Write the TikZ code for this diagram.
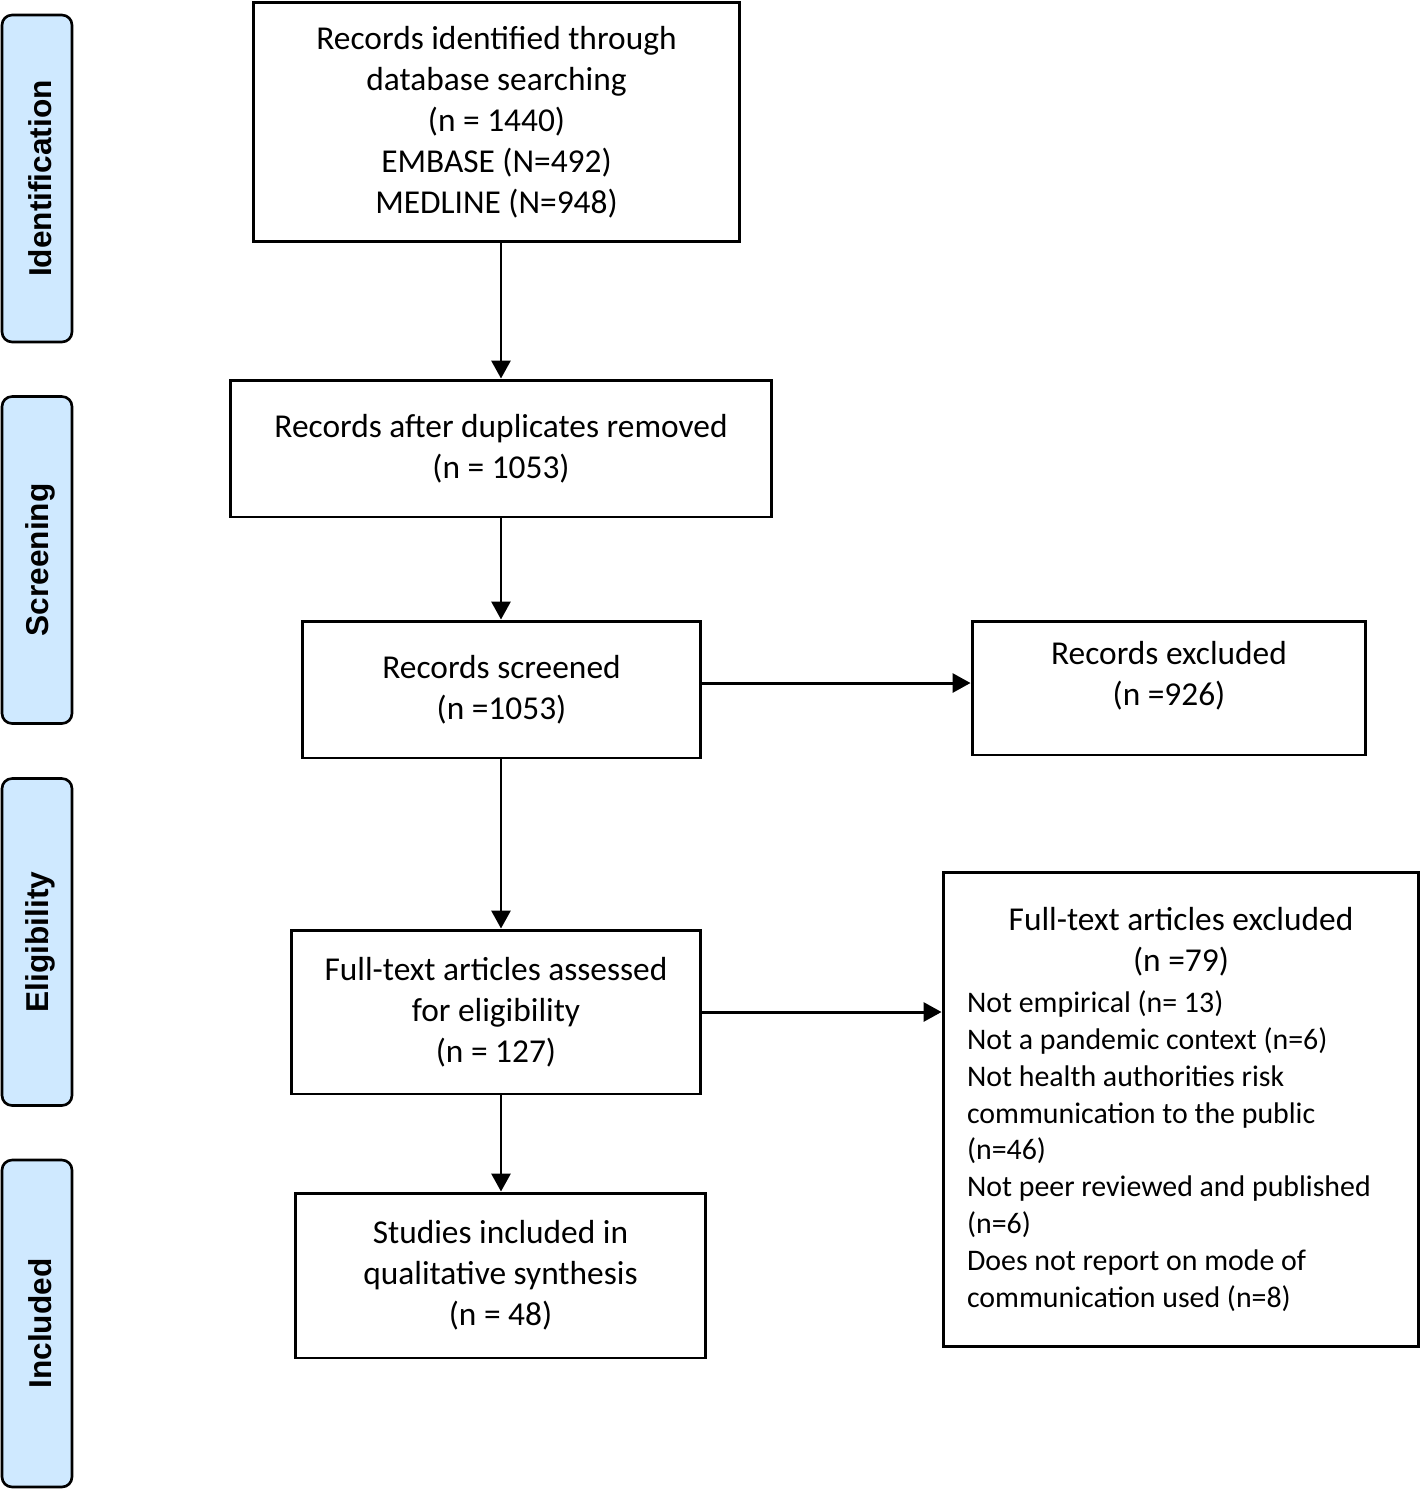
\documentclass[tikz,border=0pt]{standalone}
\usepackage{fontspec}
\setmainfont{Carlito}
\newfontfamily\sidefont{Liberation Sans}
\usetikzlibrary{arrows.meta,calc}
\definecolor{stageBg}{RGB}{207,233,255}
\tikzset{
boxstyle/.style={rectangle, draw, line width=1.7pt, inner sep=2pt, align=center, font=\fontsize{19}{23.3}\selectfont},
stagestyle/.style={rectangle, rounded corners=0.2cm, draw, line width=1.5pt, fill=stageBg, minimum width=1.4cm, minimum height=6.54cm},
stagetext/.style={rotate=90, font=\sidefont\bfseries\fontsize{18}{20}\selectfont},
arrowstyle/.style={line width=1.7pt, -{Triangle[length=0.36cm,width=0.38cm]}}
}
\newcommand{\stage}[3]{
  \node [stagestyle] (#1) at (37,#2) {};
  \node [stagetext] (#1txt) at (40,#2) {#3};
}
\newcommand{\headline}[1]{\makebox[8.56cm]{\fontsize{19}{23.3}\selectfont #1}}
\begin{document}
\begin{tikzpicture}[x=0.02cm, y=-0.02cm]
\useasboundingbox (0,0) rectangle (1420,1489);

\stage{ident}{178.5}{Identification}
\stage{screen}{560}{Screening}
\stage{elig}{942}{Eligibility}
\stage{incl}{1323.5}{Included}

\node [boxstyle, minimum width=9.74cm, minimum height=4.8cm] (rid) at (496.5,122)
  {Records identified through\\database searching\\(n = 1440)\\EMBASE (N=492)\\MEDLINE (N=948)};
\node [boxstyle, minimum width=10.84cm, minimum height=2.74cm] (dup) at (501,448.5)
  {Records after duplicates removed\\(n = 1053)};
\node [boxstyle, minimum width=7.98cm, minimum height=2.74cm] (scr) at (501.5,689.5)
  {Records screened\\(n =1053)};
\node [boxstyle, minimum width=7.88cm, minimum height=2.68cm] (exc) at (1169,688) {};
\node [boxstyle, draw=none] (exctxt) at (1169,675.5) {Records excluded\\(n =926)};
\node [boxstyle, align=left, font=\fontsize{17}{21}\selectfont, minimum width=9.52cm, minimum height=9.5cm, inner xsep=0.48cm] (ftx) at (1181,1109.5)
  {\headline{Full-text articles excluded}\\[2.3pt]\headline{(n =79)}\\[2.3pt]
   Not empirical (n= 13)\\Not a pandemic context (n=6)\\Not health authorities risk\\communication to the public\\(n=46)\\Not peer reviewed and published\\(n=6)\\Does not report on mode of\\communication used (n=8)};
\node [boxstyle, minimum width=8.2cm, minimum height=3.28cm] (fta) at (496,1012)
  {Full-text articles assessed\\for eligibility\\(n = 127)};
\node [boxstyle, minimum width=8.22cm, minimum height=3.3cm] (inc) at (500.5,1275.5)
  {Studies included in\\qualitative synthesis\\(n = 48)};

\draw [arrowstyle] (rid.south -| dup.north) -- (dup.north);
\draw [arrowstyle] (dup.south) -- (dup.south |- scr.north);
\draw [arrowstyle] (dup.south |- scr.south) -- (dup.south |- fta.north);
\draw [arrowstyle] (dup.south |- fta.south) -- (dup.south |- inc.north);
\draw [arrowstyle] ([yshift=0.13cm]scr.east) -- ([yshift=0.13cm]scr.east -| exc.west);
\draw [arrowstyle] (fta.east) -- (fta.east -| ftx.west);

\end{tikzpicture}
\end{document}
